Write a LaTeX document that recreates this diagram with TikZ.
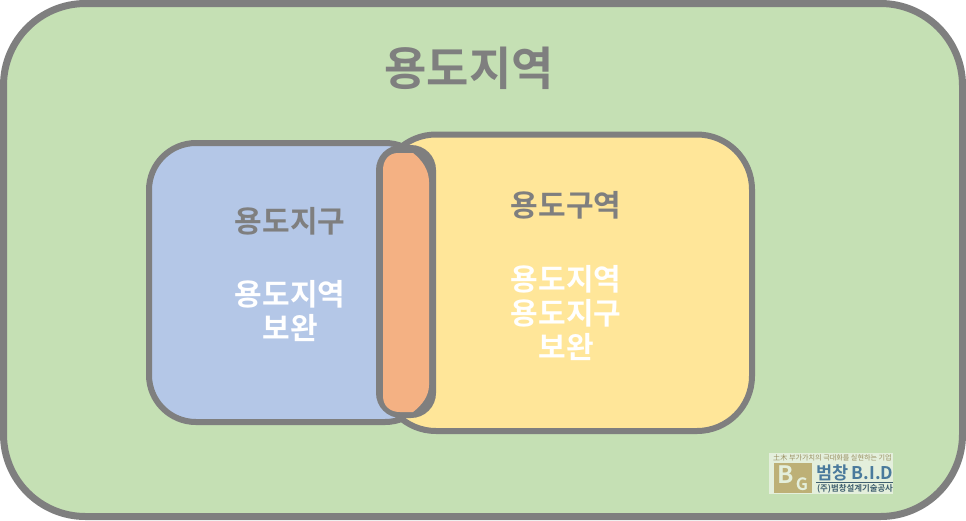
\documentclass[tikz,border=0pt]{standalone}
\usepackage{fontspec}
\newfontfamily\kr{Noto Sans CJK KR}
\newfontfamily\krb{Noto Sans CJK KR Bold}
\definecolor{edge}{HTML}{7F7F7F}
\definecolor{greenfill}{HTML}{C5E0B4}
\definecolor{bluefill}{HTML}{B4C7E7}
\definecolor{yellowfill}{HTML}{FFE699}
\definecolor{orangefill}{HTML}{F4B183}
\definecolor{logobg}{HTML}{E4EFDC}
\definecolor{logotan}{HTML}{BDB076}
\definecolor{logoblue}{HTML}{4A7A9C}
\definecolor{logodark}{HTML}{3F5F6F}
\tikzset{
  region/.style={draw=edge,line width=6pt},
  graylabel/.style={text=edge,font=\krb\fontsize{46}{50}\selectfont,inner sep=0pt,align=center},
  smallgray/.style={text=edge,font=\krb\fontsize{30}{34}\selectfont,inner sep=0pt,align=center},
  whitelabel/.style={text=white,font=\krb\fontsize{30}{34}\selectfont,inner sep=0pt,align=center},
}
\begin{document}
\begin{tikzpicture}[x=1pt,y=-1pt]
\useasboundingbox (0,0) rectangle (966,520);
\fill[white] (0,0) rectangle (966,520);
% outer
\draw[region,line width=7pt,fill=greenfill,rounded corners=82pt] (3.5,3.5) rectangle (962.5,516.5);
% blue
\draw[region,fill=bluefill,rounded corners=47pt] (149,143) rectangle (432,422);
% yellow
\draw[region,fill=yellowfill,rounded corners=55pt] (381,134.5) rectangle (752,431);
% lens
\fill[edge,rounded corners=25pt] (376,145) rectangle (436,418);
\fill[orangefill] (383,170) .. controls (383,160) and (389,153) .. (398,153)
  -- (413,153) .. controls (422,160) and (429,170) .. (429,182)
  -- (429,385) .. controls (429,396) and (422,405) .. (413,412)
  -- (400,412) .. controls (390,412) and (383,406) .. (383,396) -- cycle;
% labels
\node[graylabel] (t0) at (469,68) {용도지역};
\node[smallgray] (t1) at (290,221) {용도지구};
\node[whitelabel] (t2) at (290,311) {용도지역\\보완};
\node[smallgray] (t3) at (566,205) {용도구역};
\node[whitelabel] (t4) at (566,313) {용도지역\\용도지구\\보완};
% logo
\fill[logobg] (769,453) rectangle (893,494);
\node[inner sep=0pt,text=logotan!80!black,font=\kr\fontsize{7.1}{8}\selectfont] (l0) at (832.5,457.5) {土木 부가가치의 극대화를 실현하는 기업};
\fill[logotan] (774,463) rectangle (812,493);
\node[inner sep=0pt,text=logobg,font=\krb\fontsize{24}{24}\selectfont] (l1) at (786,475) {B};
\node[inner sep=0pt,text=logobg,font=\krb\fontsize{17}{17}\selectfont] (l2) at (802,484) {G};
\node[inner sep=0pt,text=logoblue,font=\krb\fontsize{17.5}{18}\selectfont] (l3) at (855,472.5) {범창\,B.I.D};
\draw[logodark,line width=.5pt] (816,482) -- (893,482);
\node[inner sep=0pt,text=logodark,font=\krb\fontsize{8.4}{9}\selectfont] (l4) at (855,488.5) {(주)범창설계기술공사};
\end{tikzpicture}
\end{document}
